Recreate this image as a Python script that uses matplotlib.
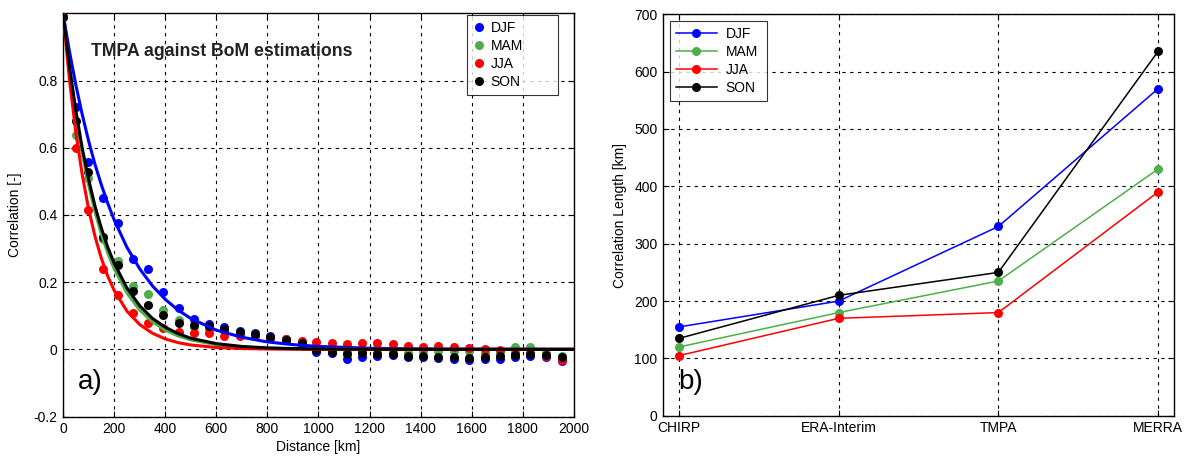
import matplotlib
matplotlib.use("Agg")
import matplotlib.pyplot as plt

plt.rcParams['font.family'] = ['Liberation Sans', 'DejaVu Sans']

seasons = ['DJF', 'MAM', 'JJA', 'SON']
colors = {'DJF': '#0000ff', 'MAM': '#4daf4a', 'JJA': '#ff0000', 'SON': '#000000'}

# panel a) binned correlations (TMPA vs BoM)
distance = [0, 50, 97, 155, 214, 273, 333, 393, 453, 512, 572, 632, 692, 752, 812, 873,
            934, 992, 1051, 1111, 1170, 1230, 1290, 1349, 1409, 1469, 1529, 1590, 1650,
            1710, 1771, 1829, 1889, 1952]
corr_djf = [0.99, 0.72, 0.558, 0.452, 0.375, 0.27, 0.238, 0.172, 0.122, 0.09, 0.074, 0.066,
            0.055, 0.05, 0.04, 0.03, 0.012, -0.009, -0.012, -0.03, -0.022, -0.02, -0.018,
            -0.022, -0.024, -0.026, -0.029, -0.031, -0.029, -0.028, -0.024, -0.021, -0.024, -0.034]
corr_mam = [0.99, 0.638, 0.51, 0.328, 0.264, 0.19, 0.165, 0.118, 0.087, 0.065, 0.062, 0.058,
            0.05, 0.045, 0.035, 0.027, 0.015, 0.003, -0.003, -0.008, -0.008, -0.01, -0.008,
            -0.012, -0.004, -0.004, -0.004, -0.006, -0.01, -0.008, 0.006, 0.006, -0.012, -0.021]
corr_jja = [0.99, 0.60, 0.415, 0.239, 0.162, 0.107, 0.079, 0.0625, 0.052, 0.05, 0.049, 0.04,
            0.039, 0.04, 0.033, 0.03, 0.026, 0.022, 0.018, 0.015, 0.018, 0.018, 0.015, 0.011,
            0.008, 0.009, 0.007, 0.003, 0.001, -0.001, -0.012, -0.01, -0.02, -0.032]
corr_son = [0.99, 0.68, 0.529, 0.335, 0.25, 0.175, 0.132, 0.103, 0.078, 0.071, 0.068, 0.061,
            0.052, 0.046, 0.038, 0.028, 0.02, -0.002, -0.008, -0.013, -0.012, -0.015, -0.014,
            -0.019, -0.021, -0.023, -0.024, -0.027, -0.023, -0.02, -0.017, -0.015, -0.016, -0.024]

# fitted curves
fit_dist = [0, 25, 50, 75, 100, 125, 150, 175, 200, 250, 300, 350, 400, 450, 500, 600,
            700, 800, 900, 1000, 1200, 1400, 1600, 1800, 2000]
fit_djf = [1.0, 0.888, 0.788, 0.700, 0.621, 0.551, 0.490, 0.435, 0.386, 0.304, 0.240, 0.189,
           0.149, 0.117, 0.092, 0.057, 0.036, 0.022, 0.014, 0.0086, 0.0033, 0.0013, 0.0005,
           0.0002, 0.0001]
fit_mam = [1.0, 0.836, 0.700, 0.585, 0.490, 0.410, 0.343, 0.287, 0.240, 0.168, 0.117, 0.082,
           0.057, 0.040, 0.028, 0.014, 0.0067, 0.0033, 0.0016, 0.0008, 0.0002, 0.0, 0.0, 0.0, 0.0]
fit_jja = [1.0, 0.805, 0.647, 0.521, 0.419, 0.337, 0.271, 0.218, 0.176, 0.114, 0.074, 0.048,
           0.031, 0.020, 0.013, 0.0054, 0.0023, 0.0010, 0.0004, 0.0002, 0.0, 0.0, 0.0, 0.0, 0.0]
fit_son = [1.0, 0.844, 0.712, 0.600, 0.507, 0.427, 0.361, 0.304, 0.257, 0.183, 0.130, 0.092,
           0.066, 0.047, 0.033, 0.017, 0.0086, 0.0043, 0.0022, 0.0011, 0.0003, 0.0, 0.0, 0.0, 0.0]

# panel b) correlation lengths per product
products = ['CHIRP', 'ERA-Interim', 'TMPA', 'MERRA']
len_djf = [155, 200, 330, 570]
len_mam = [120, 180, 235, 430]
len_jja = [105, 170, 180, 390]
len_son = [135, 210, 250, 635]

corr = {'DJF': corr_djf, 'MAM': corr_mam, 'JJA': corr_jja, 'SON': corr_son}
fits = {'DJF': fit_djf, 'MAM': fit_mam, 'JJA': fit_jja, 'SON': fit_son}
lengths = {'DJF': len_djf, 'MAM': len_mam, 'JJA': len_jja, 'SON': len_son}

fig = plt.figure(figsize=(11.91, 4.57), dpi=100)
ax1 = fig.add_axes([0.0529, 0.0886, 0.429, 0.882])
ax2 = fig.add_axes([0.5567, 0.0900, 0.429, 0.879])

grid_kw = dict(color='black', linestyle=(0, (3, 4)), linewidth=0.8)

# ---- panel a
for s in seasons:
    ax1.plot(distance, corr[s], 'o', color=colors[s], markersize=6.5, label=s,
             markeredgewidth=0, zorder=3)
for s in seasons:
    ax1.plot(fit_dist, fits[s], '-', color=colors[s], linewidth=2.2, zorder=4)

ax1.set_xlim(0, 2000)
ax1.set_ylim(-0.2, 1.0)
ax1.set_xticks(range(0, 2001, 200))
ax1.set_yticks([-0.2, 0, 0.2, 0.4, 0.6, 0.8])
ax1.set_yticklabels(['-0.2', '0', '0.2', '0.4', '0.6', '0.8'])
ax1.grid(True, **grid_kw)
ax1.set_xlabel('Distance [km]', fontsize=10, labelpad=3)
ax1.set_ylabel('Correlation [-]', fontsize=10, labelpad=8)
ax1.text(0.055, 0.905, 'TMPA against BoM estimations', transform=ax1.transAxes,
         fontsize=12.7, fontweight='bold', color='#222222', va='center')
ax1.text(0.03, 0.085, 'a)', transform=ax1.transAxes, fontsize=20, va='center')
leg1 = ax1.legend(loc='upper left', bbox_to_anchor=(0.7906, 0.5, 0.178, 0.496),
                  mode='expand', borderaxespad=0, fontsize=10, frameon=True,
                  fancybox=False, edgecolor='black', handletextpad=0.4,
                  labelspacing=0.3, handlelength=0.9, borderpad=0.4)
leg1.get_frame().set_linewidth(0.8)

# ---- panel b
xpos = list(range(1, len(products) + 1))
for s in seasons:
    ax2.plot(xpos, lengths[s], '-o', color=colors[s], linewidth=1.1, markersize=6.5,
             markeredgewidth=0, label=s)
ax2.set_xlim(0.9, 4.1)
ax2.set_ylim(0, 700)
ax2.set_xticks(xpos)
ax2.set_xticklabels(products)
ax2.set_yticks(range(0, 701, 100))
ax2.grid(True, **grid_kw)
ax2.set_ylabel('Correlation Length [km]', fontsize=10, labelpad=5)
ax2.text(0.03, 0.085, 'b)', transform=ax2.transAxes, fontsize=20, va='center')
leg2 = ax2.legend(loc='upper left', bbox_to_anchor=(0.0137, 0.5, 0.19, 0.483),
                  mode='expand', borderaxespad=0, fontsize=10, frameon=True,
                  fancybox=False, edgecolor='black', handletextpad=0.6,
                  labelspacing=0.3, handlelength=3.0, borderpad=0.4)
leg2.get_frame().set_linewidth(0.8)

for ax in (ax1, ax2):
    ax.tick_params(direction='in', top=True, right=True, labelsize=10, length=4, pad=4)
    for sp in ax.spines.values():
        sp.set_linewidth(1.0)

fig.savefig('out.png', dpi=100)
